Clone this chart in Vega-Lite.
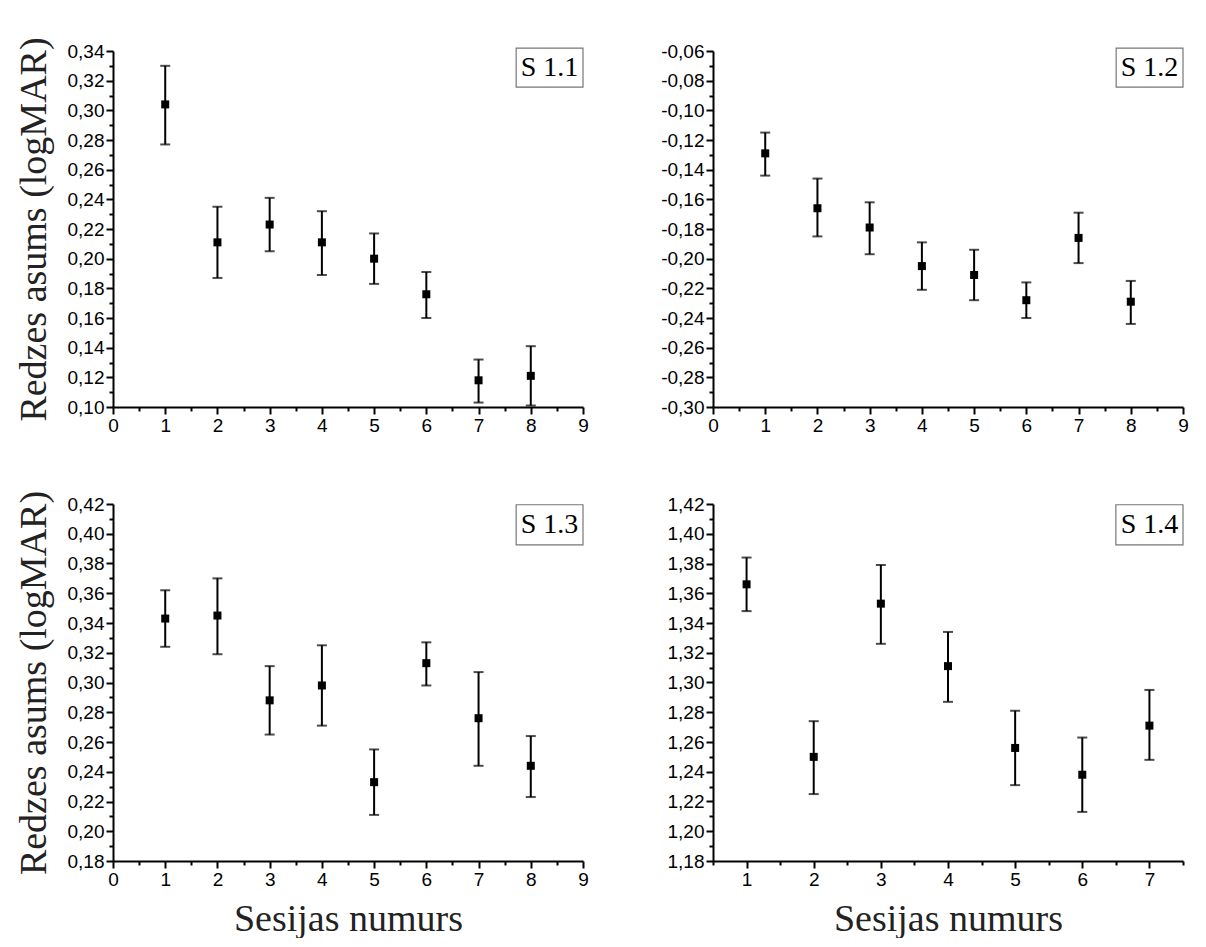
{
  "$schema": "https://vega.github.io/schema/vega-lite/v6.json",
  "background": "white",
  "padding": {"left": 15, "top": 36, "right": 0, "bottom": 0},
  "config": {
    "view": {"stroke": null},
    "font": "Liberation Sans",
    "axis": {
      "grid": false,
      "domainColor": "black",
      "domainWidth": 2,
      "tickColor": "black",
      "tickWidth": 2,
      "labelFont": "Liberation Sans",
      "labelFontSize": 19,
      "labelColor": "black",
      "labelOverlap": false,
      "labelFlush": false,
      "labelBound": false,
      "titleFont": "Liberation Serif",
      "titleFontSize": 38,
      "titleFontWeight": "normal",
      "titleColor": "#222222"
    }
  },
  "datasets": {
    "s11": [
      {"session": 1, "mean": 0.304, "low": 0.277, "high": 0.330},
      {"session": 2, "mean": 0.211, "low": 0.187, "high": 0.235},
      {"session": 3, "mean": 0.223, "low": 0.205, "high": 0.241},
      {"session": 4, "mean": 0.211, "low": 0.189, "high": 0.232},
      {"session": 5, "mean": 0.200, "low": 0.183, "high": 0.217},
      {"session": 6, "mean": 0.176, "low": 0.160, "high": 0.191},
      {"session": 7, "mean": 0.118, "low": 0.103, "high": 0.132},
      {"session": 8, "mean": 0.121, "low": 0.101, "high": 0.141}
    ],
    "s12": [
      {"session": 1, "mean": -0.129, "low": -0.144, "high": -0.115},
      {"session": 2, "mean": -0.166, "low": -0.185, "high": -0.146},
      {"session": 3, "mean": -0.179, "low": -0.197, "high": -0.162},
      {"session": 4, "mean": -0.205, "low": -0.221, "high": -0.189},
      {"session": 5, "mean": -0.211, "low": -0.228, "high": -0.194},
      {"session": 6, "mean": -0.228, "low": -0.240, "high": -0.216},
      {"session": 7, "mean": -0.186, "low": -0.203, "high": -0.169},
      {"session": 8, "mean": -0.229, "low": -0.244, "high": -0.215}
    ],
    "s13": [
      {"session": 1, "mean": 0.343, "low": 0.324, "high": 0.362},
      {"session": 2, "mean": 0.345, "low": 0.319, "high": 0.370},
      {"session": 3, "mean": 0.288, "low": 0.265, "high": 0.311},
      {"session": 4, "mean": 0.298, "low": 0.271, "high": 0.325},
      {"session": 5, "mean": 0.233, "low": 0.211, "high": 0.255},
      {"session": 6, "mean": 0.313, "low": 0.298, "high": 0.327},
      {"session": 7, "mean": 0.276, "low": 0.244, "high": 0.307},
      {"session": 8, "mean": 0.244, "low": 0.223, "high": 0.264}
    ],
    "s14": [
      {"session": 1, "mean": 1.366, "low": 1.348, "high": 1.384},
      {"session": 2, "mean": 1.250, "low": 1.225, "high": 1.274},
      {"session": 3, "mean": 1.353, "low": 1.326, "high": 1.379},
      {"session": 4, "mean": 1.311, "low": 1.287, "high": 1.334},
      {"session": 5, "mean": 1.256, "low": 1.231, "high": 1.281},
      {"session": 6, "mean": 1.238, "low": 1.213, "high": 1.263},
      {"session": 7, "mean": 1.271, "low": 1.248, "high": 1.295}
    ]
  },
  "columns": 2,
  "spacing": {"row": 55, "column": 71},
  "concat": [
    {
      "width": 470,
      "height": 356,
      "resolve": {"axis": {"x": "independent", "y": "independent"}},
      "layer": [
        {
          "data": {"name": "s11"},
          "mark": {"type": "rule", "color": "black", "strokeWidth": 2},
          "encoding": {
            "x": {"field": "session", "type": "quantitative",
              "scale": {"domain": [0, 9], "nice": false, "zero": false},
              "axis": {"orient": "bottom", "title": null, "values": [0,1,2,3,4,5,6,7,8,9], "format": "d", "tickSize": 7, "labelPadding": 2}},
            "y": {"field": "low", "type": "quantitative",
              "scale": {"domain": [0.10, 0.34], "nice": false, "zero": false},
              "axis": {"orient": "left", "title": "Redzes asums (logMAR)", "titlePadding": 14,
                "values": [0.10,0.12,0.14,0.16,0.18,0.20,0.22,0.24,0.26,0.28,0.30,0.32,0.34],
                "labelExpr": "replace(replace(format(datum.value, '.2f'), '.', ','), '\u2212', '-')",
                "tickSize": 7, "labelPadding": 2}},
            "y2": {"field": "high"}
          }
        },
        {
          "data": {"name": "s11"},
          "mark": {"type": "tick", "orient": "horizontal", "color": "black", "size": 10, "thickness": 2},
          "encoding": {
            "x": {"field": "session", "type": "quantitative",
              "axis": {"orient": "bottom", "title": null, "values": [0.5,1.5,2.5,3.5,4.5,5.5,6.5,7.5,8.5], "labels": false, "domain": false, "tickSize": 4}},
            "y": {"field": "high", "type": "quantitative",
              "axis": {"orient": "left", "title": null, "values": [0.11,0.13,0.15,0.17,0.19,0.21,0.23,0.25,0.27,0.29,0.31,0.33], "labels": false, "domain": false, "tickSize": 4}}
          }
        },
        {
          "data": {"name": "s11"},
          "mark": {"type": "tick", "orient": "horizontal", "color": "black", "size": 10, "thickness": 2},
          "encoding": {"x": {"field": "session", "type": "quantitative", "axis": null}, "y": {"field": "low", "type": "quantitative", "axis": null}}
        },
        {
          "data": {"name": "s11"},
          "mark": {"type": "square", "size": 64, "color": "black", "filled": true, "opacity": 1},
          "encoding": {"x": {"field": "session", "type": "quantitative", "axis": null}, "y": {"field": "mean", "type": "quantitative", "axis": null}}
        },
        {
          "data": {"values": [{"label": "S 1.1"}]},
          "mark": {"type": "rect", "fill": "white", "stroke": "#777777", "strokeWidth": 1.2},
          "encoding": {"x": {"datum": 7.72, "axis": null}, "x2": {"datum": 9.0}, "y": {"datum": 0.342, "axis": null}, "y2": {"datum": 0.3157}}
        },
        {
          "data": {"values": [{"label": "S 1.1"}]},
          "mark": {"type": "text", "font": "Liberation Serif", "fontSize": 28, "color": "black"},
          "encoding": {"x": {"datum": 8.36, "axis": null}, "y": {"datum": 0.3287, "axis": null}, "text": {"field": "label"}}
        }
      ]
    },
    {
      "width": 470,
      "height": 356,
      "resolve": {"axis": {"x": "independent", "y": "independent"}},
      "layer": [
        {
          "data": {"name": "s12"},
          "mark": {"type": "rule", "color": "black", "strokeWidth": 2},
          "encoding": {
            "x": {"field": "session", "type": "quantitative",
              "scale": {"domain": [0, 9], "nice": false, "zero": false},
              "axis": {"orient": "bottom", "title": null, "values": [0,1,2,3,4,5,6,7,8,9], "format": "d", "tickSize": 7, "labelPadding": 2}},
            "y": {"field": "low", "type": "quantitative",
              "scale": {"domain": [-0.30, -0.06], "nice": false, "zero": false},
              "axis": {"orient": "left", "title": null,
                "values": [-0.30,-0.28,-0.26,-0.24,-0.22,-0.20,-0.18,-0.16,-0.14,-0.12,-0.10,-0.08,-0.06],
                "labelExpr": "replace(replace(format(datum.value, '.2f'), '.', ','), '\u2212', '-')",
                "tickSize": 7, "labelPadding": 2}},
            "y2": {"field": "high"}
          }
        },
        {
          "data": {"name": "s12"},
          "mark": {"type": "tick", "orient": "horizontal", "color": "black", "size": 10, "thickness": 2},
          "encoding": {
            "x": {"field": "session", "type": "quantitative",
              "axis": {"orient": "bottom", "title": null, "values": [0.5,1.5,2.5,3.5,4.5,5.5,6.5,7.5,8.5], "labels": false, "domain": false, "tickSize": 4}},
            "y": {"field": "high", "type": "quantitative",
              "axis": {"orient": "left", "title": null, "values": [-0.29,-0.27,-0.25,-0.23,-0.21,-0.19,-0.17,-0.15,-0.13,-0.11,-0.09,-0.07], "labels": false, "domain": false, "tickSize": 4}}
          }
        },
        {
          "data": {"name": "s12"},
          "mark": {"type": "tick", "orient": "horizontal", "color": "black", "size": 10, "thickness": 2},
          "encoding": {"x": {"field": "session", "type": "quantitative", "axis": null}, "y": {"field": "low", "type": "quantitative", "axis": null}}
        },
        {
          "data": {"name": "s12"},
          "mark": {"type": "square", "size": 64, "color": "black", "filled": true, "opacity": 1},
          "encoding": {"x": {"field": "session", "type": "quantitative", "axis": null}, "y": {"field": "mean", "type": "quantitative", "axis": null}}
        },
        {
          "data": {"values": [{"label": "S 1.2"}]},
          "mark": {"type": "rect", "fill": "white", "stroke": "#777777", "strokeWidth": 1.2},
          "encoding": {"x": {"datum": 7.72, "axis": null}, "x2": {"datum": 9.0}, "y": {"datum": -0.058, "axis": null}, "y2": {"datum": -0.0843}}
        },
        {
          "data": {"values": [{"label": "S 1.2"}]},
          "mark": {"type": "text", "font": "Liberation Serif", "fontSize": 28, "color": "black"},
          "encoding": {"x": {"datum": 8.36, "axis": null}, "y": {"datum": -0.0713, "axis": null}, "text": {"field": "label"}}
        }
      ]
    },
    {
      "width": 470,
      "height": 357,
      "resolve": {"axis": {"x": "independent", "y": "independent"}},
      "layer": [
        {
          "data": {"name": "s13"},
          "mark": {"type": "rule", "color": "black", "strokeWidth": 2},
          "encoding": {
            "x": {"field": "session", "type": "quantitative",
              "scale": {"domain": [0, 9], "nice": false, "zero": false},
              "axis": {"orient": "bottom", "title": "Sesijas numurs", "titlePadding": 11, "values": [0,1,2,3,4,5,6,7,8,9], "format": "d", "tickSize": 7, "labelPadding": 2}},
            "y": {"field": "low", "type": "quantitative",
              "scale": {"domain": [0.18, 0.42], "nice": false, "zero": false},
              "axis": {"orient": "left", "title": "Redzes asums (logMAR)", "titlePadding": 14,
                "values": [0.18,0.20,0.22,0.24,0.26,0.28,0.30,0.32,0.34,0.36,0.38,0.40,0.42],
                "labelExpr": "replace(replace(format(datum.value, '.2f'), '.', ','), '\u2212', '-')",
                "tickSize": 7, "labelPadding": 2}},
            "y2": {"field": "high"}
          }
        },
        {
          "data": {"name": "s13"},
          "mark": {"type": "tick", "orient": "horizontal", "color": "black", "size": 10, "thickness": 2},
          "encoding": {
            "x": {"field": "session", "type": "quantitative",
              "axis": {"orient": "bottom", "title": null, "values": [0.5,1.5,2.5,3.5,4.5,5.5,6.5,7.5,8.5], "labels": false, "domain": false, "tickSize": 4}},
            "y": {"field": "high", "type": "quantitative",
              "axis": {"orient": "left", "title": null, "values": [0.19,0.21,0.23,0.25,0.27,0.29,0.31,0.33,0.35,0.37,0.39,0.41], "labels": false, "domain": false, "tickSize": 4}}
          }
        },
        {
          "data": {"name": "s13"},
          "mark": {"type": "tick", "orient": "horizontal", "color": "black", "size": 10, "thickness": 2},
          "encoding": {"x": {"field": "session", "type": "quantitative", "axis": null}, "y": {"field": "low", "type": "quantitative", "axis": null}}
        },
        {
          "data": {"name": "s13"},
          "mark": {"type": "square", "size": 64, "color": "black", "filled": true, "opacity": 1},
          "encoding": {"x": {"field": "session", "type": "quantitative", "axis": null}, "y": {"field": "mean", "type": "quantitative", "axis": null}}
        },
        {
          "data": {"values": [{"label": "S 1.3"}]},
          "mark": {"type": "rect", "fill": "white", "stroke": "#777777", "strokeWidth": 1.2},
          "encoding": {"x": {"datum": 7.72, "axis": null}, "x2": {"datum": 9.0}, "y": {"datum": 0.4195, "axis": null}, "y2": {"datum": 0.3925}}
        },
        {
          "data": {"values": [{"label": "S 1.3"}]},
          "mark": {"type": "text", "font": "Liberation Serif", "fontSize": 28, "color": "black"},
          "encoding": {"x": {"datum": 8.36, "axis": null}, "y": {"datum": 0.406, "axis": null}, "text": {"field": "label"}}
        }
      ]
    },
    {
      "width": 470,
      "height": 357,
      "resolve": {"axis": {"x": "independent", "y": "independent"}},
      "layer": [
        {
          "data": {"name": "s14"},
          "mark": {"type": "rule", "color": "black", "strokeWidth": 2},
          "encoding": {
            "x": {"field": "session", "type": "quantitative",
              "scale": {"domain": [0.5, 7.5], "nice": false, "zero": false},
              "axis": {"orient": "bottom", "title": "Sesijas numurs", "titlePadding": 11, "values": [1,2,3,4,5,6,7], "format": "d", "tickSize": 7, "labelPadding": 2}},
            "y": {"field": "low", "type": "quantitative",
              "scale": {"domain": [1.18, 1.42], "nice": false, "zero": false},
              "axis": {"orient": "left", "title": null,
                "values": [1.18,1.20,1.22,1.24,1.26,1.28,1.30,1.32,1.34,1.36,1.38,1.40,1.42],
                "labelExpr": "replace(replace(format(datum.value, '.2f'), '.', ','), '\u2212', '-')",
                "tickSize": 7, "labelPadding": 2}},
            "y2": {"field": "high"}
          }
        },
        {
          "data": {"name": "s14"},
          "mark": {"type": "tick", "orient": "horizontal", "color": "black", "size": 10, "thickness": 2},
          "encoding": {
            "x": {"field": "session", "type": "quantitative",
              "axis": {"orient": "bottom", "title": null, "values": [0.5,1.5,2.5,3.5,4.5,5.5,6.5,7.5], "labels": false, "domain": false, "tickSize": 4}},
            "y": {"field": "high", "type": "quantitative",
              "axis": {"orient": "left", "title": null, "values": [1.19,1.21,1.23,1.25,1.27,1.29,1.31,1.33,1.35,1.37,1.39,1.41], "labels": false, "domain": false, "tickSize": 4}}
          }
        },
        {
          "data": {"name": "s14"},
          "mark": {"type": "tick", "orient": "horizontal", "color": "black", "size": 10, "thickness": 2},
          "encoding": {"x": {"field": "session", "type": "quantitative", "axis": null}, "y": {"field": "low", "type": "quantitative", "axis": null}}
        },
        {
          "data": {"name": "s14"},
          "mark": {"type": "square", "size": 64, "color": "black", "filled": true, "opacity": 1},
          "encoding": {"x": {"field": "session", "type": "quantitative", "axis": null}, "y": {"field": "mean", "type": "quantitative", "axis": null}}
        },
        {
          "data": {"values": [{"label": "S 1.4"}]},
          "mark": {"type": "rect", "fill": "white", "stroke": "#777777", "strokeWidth": 1.2},
          "encoding": {"x": {"datum": 6.5, "axis": null}, "x2": {"datum": 7.5}, "y": {"datum": 1.4195, "axis": null}, "y2": {"datum": 1.3925}}
        },
        {
          "data": {"values": [{"label": "S 1.4"}]},
          "mark": {"type": "text", "font": "Liberation Serif", "fontSize": 28, "color": "black"},
          "encoding": {"x": {"datum": 7.0, "axis": null}, "y": {"datum": 1.406, "axis": null}, "text": {"field": "label"}}
        }
      ]
    }
  ]
}
